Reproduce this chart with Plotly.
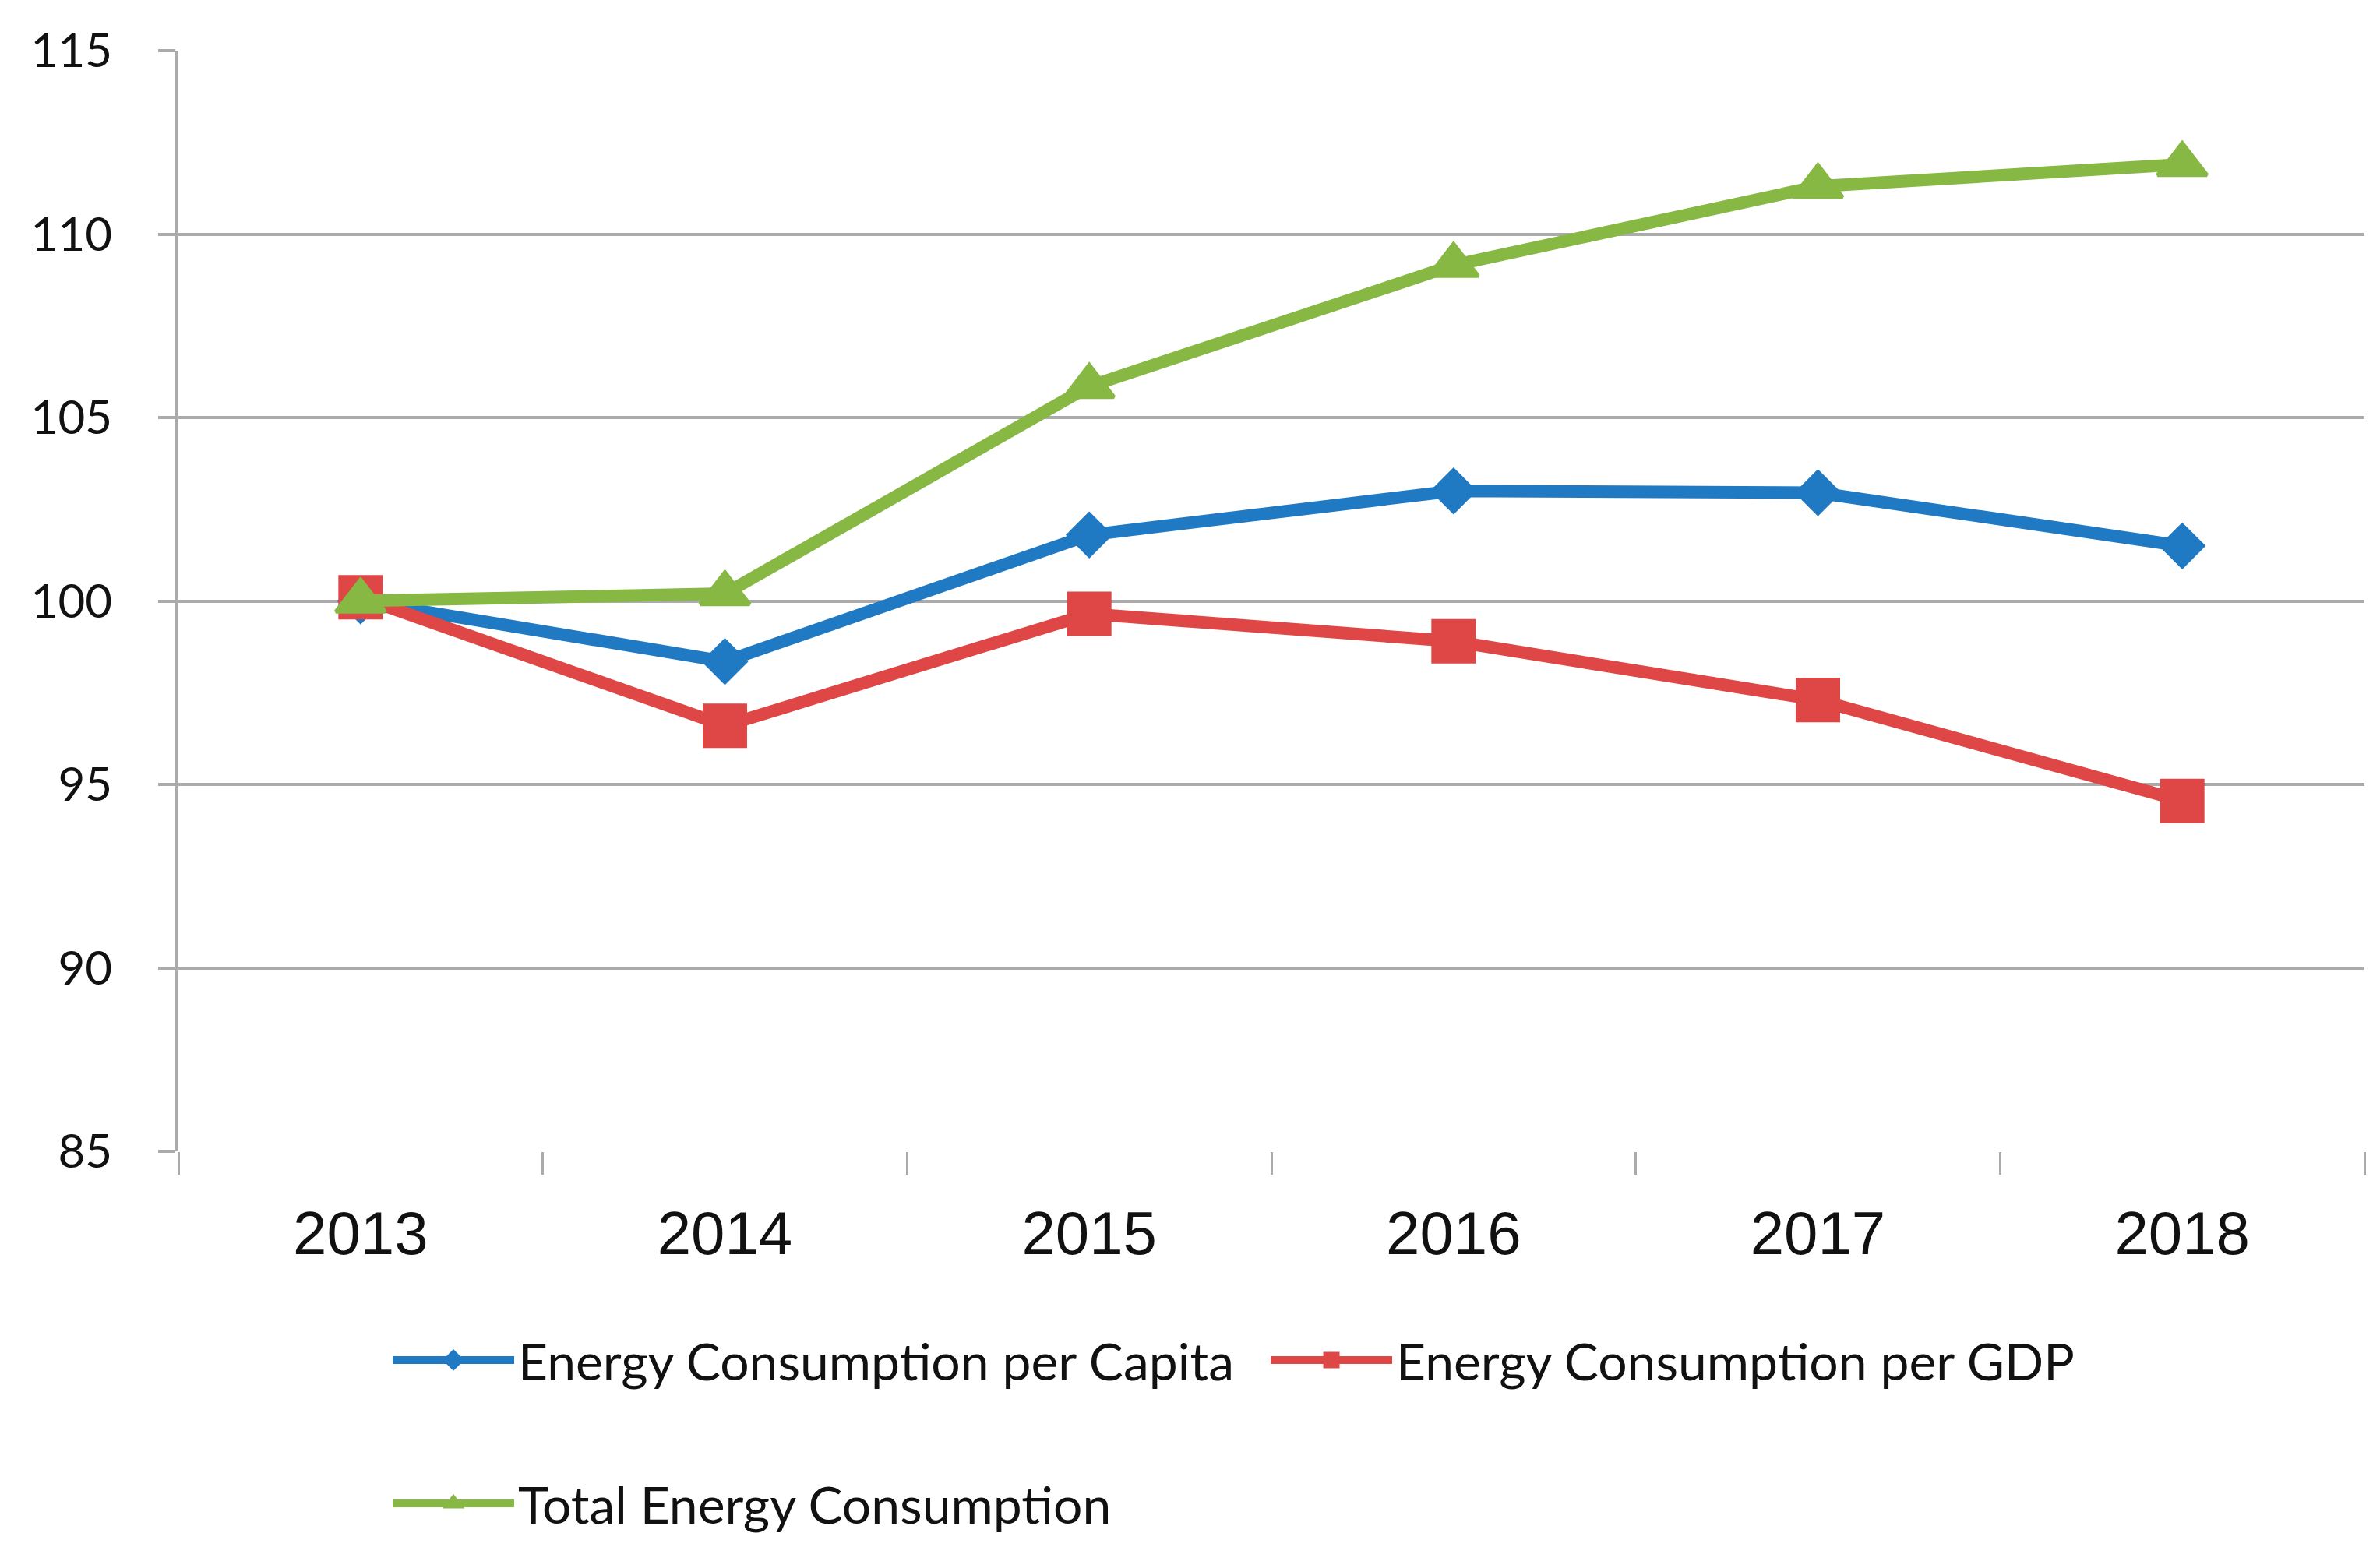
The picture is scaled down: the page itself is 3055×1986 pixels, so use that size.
import plotly.graph_objects as go

years = ["2013", "2014", "2015", "2016", "2017", "2018"]
per_capita = [100.0, 98.35, 101.8, 103.0, 102.95, 101.5]
per_gdp = [100.1, 96.6, 99.65, 98.9, 97.3, 94.55]
total = [100.0, 100.2, 105.85, 109.15, 111.3, 111.9]

y_ticks = [85, 90, 95, 100, 105, 110, 115]

names = ["Energy Consumption per Capita", "Energy Consumption per GDP", "Total Energy Consumption"]
colors = ["#2079C3", "#DE4745", "#86B843"]

# page body has an 8px margin, so the figure is a bit smaller than the window
W, H = 3039, 1970
L, R, T, B = 221, 12, 57, 500

fig = go.Figure()
fig.add_trace(go.Scatter(x=years, y=per_capita, name=names[0], mode="lines+markers",
                         line=dict(color=colors[0], width=16),
                         marker=dict(symbol="diamond", size=41, color=colors[0],
                                     line=dict(width=5, color=colors[0])),
                         legend="legend"))
fig.add_trace(go.Scatter(x=years, y=per_gdp, name=names[1], mode="lines+markers",
                         line=dict(color=colors[1], width=16),
                         marker=dict(symbol="square", size=52, color=colors[1],
                                     line=dict(width=5, color=colors[1])),
                         legend="legend"))
fig.add_trace(go.Scatter(x=years, y=total, name=names[2], mode="lines+markers",
                         line=dict(color=colors[2], width=16),
                         marker=dict(symbol="triangle-up", size=55, color=colors[2],
                                     line=dict(width=5, color=colors[2])),
                         legend="legend2"))

grid = "#ABABAB"
legend_font = dict(family="Lato, Noto Sans, sans-serif", size=66, color="#111111")

fig.update_layout(
    width=W, height=H,
    margin=dict(l=L, r=R, t=T, b=B, autoexpand=False),
    paper_bgcolor="white", plot_bgcolor="white",
    xaxis=dict(
        type="category", range=[-0.5, 5.5],
        tickson="boundaries", ticks="outside", ticklen=29, tickwidth=3, tickcolor=grid,
        showgrid=False, showline=False, zeroline=False,
        tickfont=dict(family="Liberation Sans, Arial, sans-serif", size=78, color="#111111"),
        ticklabelstandoff=53,
    ),
    yaxis=dict(
        range=[85, 115], tickmode="array", tickvals=y_ticks, ticktext=[str(v) for v in y_ticks],
        showgrid=True, gridcolor=grid, gridwidth=4,
        showline=True, linecolor=grid, linewidth=4,
        ticks="outside", ticklen=22, tickwidth=4, tickcolor=grid,
        zeroline=False,
        tickfont=dict(family="Lato, Noto Sans, sans-serif", size=60, color="#111111"),
        ticklabelstandoff=47,
    ),
    legend=dict(orientation="h", xref="container", yref="container",
                x=491 / W, y=1 - 1738 / H, xanchor="left", yanchor="middle",
                font=legend_font, itemwidth=156, entrywidth=956, entrywidthmode="pixels",
                bgcolor="rgba(0,0,0,0)"),
    legend2=dict(orientation="h", xref="container", yref="container",
                 x=491 / W, y=1 - 1922 / H, xanchor="left", yanchor="middle",
                 font=legend_font, itemwidth=156,
                 bgcolor="rgba(0,0,0,0)"),
    showlegend=True,
)

fig.write_html("out.html")
